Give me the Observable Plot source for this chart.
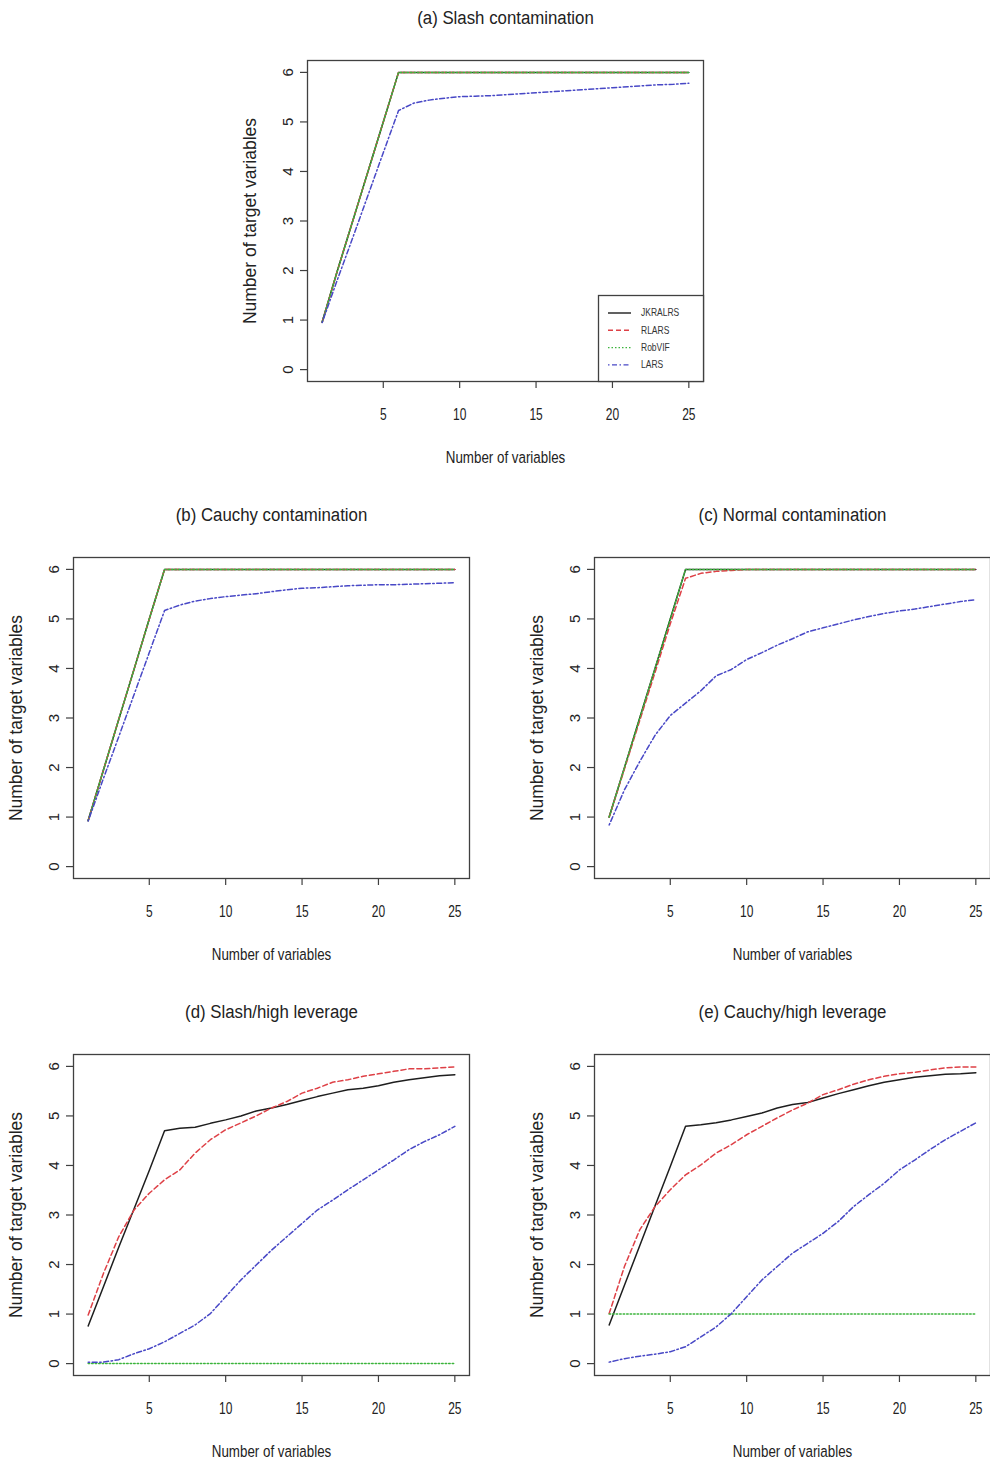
<!DOCTYPE html>
<html>
<head>
<meta charset="utf-8">
<script src="https://cdn.jsdelivr.net/npm/d3@7"></script>
<script src="https://cdn.jsdelivr.net/npm/@observablehq/plot@0.6"></script>
<style>
  html, body { margin: 0; padding: 0; background: #fff; overflow: hidden; }
  #page { position: relative; width: 990px; height: 1464px; overflow: hidden; background: #fff; }
  #page > svg { position: absolute; }
</style>
</head>
<body>
<div id="page"></div>
<script>
// ---------- data ----------
const nVars = [1,2,3,4,5,6,7,8,9,10,11,12,13,14,15,16,17,18,19,20,21,22,23,24,25];
const xTicks = [5, 10, 15, 20, 25];
const yTicks = [0, 1, 2, 3, 4, 5, 6];
const methods = ["JKRALRS", "RLARS", "RobVIF", "LARS"];
const panelTitles = ["(a) Slash contamination", "(b) Cauchy contamination", "(c) Normal contamination", "(d) Slash/high leverage", "(e) Cauchy/high leverage"];
const xLabel = "Number of variables";
const yLabel = "Number of target variables";

// (a) Slash contamination
const a_JKRALRS = [0.96,2.0,3.0,4.0,5.0,6,6,6,6,6,6,6,6,6,6,6,6,6,6,6,6,6,6,6,6];
const a_RLARS   = [0.96,2.0,3.0,4.0,5.0,6,6,6,6,6,6,6,6,6,6,6,6,6,6,6,6,6,6,6,6];
const a_RobVIF  = [0.96,2.0,3.0,4.0,5.0,6,6,6,6,6,6,6,6,6,6,6,6,6,6,6,6,6,6,6,6];
const a_LARS    = [0.95,1.82,2.66,3.52,4.38,5.23,5.38,5.44,5.48,5.51,5.52,5.53,5.55,5.57,5.59,5.61,5.63,5.65,5.67,5.69,5.71,5.73,5.75,5.76,5.78];
// (b) Cauchy contamination
const b_JKRALRS = [0.93,1.95,2.97,3.98,5.0,6,6,6,6,6,6,6,6,6,6,6,6,6,6,6,6,6,6,6,6];
const b_RLARS   = [0.93,1.95,2.97,3.98,5.0,6,6,6,6,6,6,6,6,6,6,6,6,6,6,6,6,6,6,6,6];
const b_RobVIF  = [0.93,1.95,2.97,3.98,5.0,6,6,6,6,6,6,6,6,6,6,6,6,6,6,6,6,6,6,6,6];
const b_LARS    = [0.92,1.78,2.62,3.47,4.32,5.17,5.28,5.36,5.41,5.45,5.48,5.51,5.55,5.59,5.62,5.63,5.65,5.67,5.68,5.69,5.69,5.70,5.71,5.72,5.73];
// (c) Normal contamination
const c_JKRALRS = [1.0,2.0,3.0,4.0,5.0,6,6,6,6,6,6,6,6,6,6,6,6,6,6,6,6,6,6,6,6];
const c_RLARS   = [1.0,1.97,2.95,3.92,4.9,5.82,5.92,5.96,5.98,6,6,6,6,6,6,6,6,6,6,6,6,6,6,6,6];
const c_RobVIF  = [1.0,2.0,3.0,4.0,5.0,6,6,6,6,6,6,6,6,6,6,6,6,6,6,6,6,6,6,6,6];
const c_LARS    = [0.84,1.55,2.12,2.65,3.05,3.3,3.55,3.85,3.98,4.18,4.32,4.47,4.6,4.74,4.82,4.9,4.98,5.05,5.11,5.16,5.2,5.25,5.3,5.35,5.39];
// (d) Slash/high leverage
const d_JKRALRS = [0.76,1.55,2.35,3.12,3.9,4.7,4.75,4.77,4.85,4.92,5.0,5.1,5.16,5.23,5.31,5.39,5.46,5.53,5.56,5.61,5.68,5.73,5.77,5.81,5.83];
const d_RLARS   = [0.98,1.82,2.56,3.1,3.44,3.71,3.91,4.25,4.52,4.72,4.86,5.0,5.16,5.29,5.46,5.56,5.68,5.73,5.8,5.85,5.9,5.95,5.95,5.97,5.99];
const d_RobVIF  = [0,0,0,0,0,0,0,0,0,0,0,0,0,0,0,0,0,0,0,0,0,0,0,0,0];
const d_LARS    = [0.03,0.03,0.08,0.2,0.3,0.44,0.61,0.78,1.01,1.35,1.69,1.99,2.29,2.56,2.83,3.1,3.3,3.51,3.71,3.91,4.11,4.32,4.48,4.62,4.79];
// (e) Cauchy/high leverage
const e_JKRALRS = [0.78,1.58,2.38,3.18,3.98,4.79,4.82,4.86,4.92,4.99,5.06,5.16,5.23,5.27,5.36,5.45,5.53,5.61,5.68,5.73,5.78,5.81,5.84,5.85,5.87];
const e_RLARS   = [1.01,1.96,2.7,3.17,3.51,3.81,4.01,4.25,4.42,4.62,4.79,4.96,5.12,5.26,5.43,5.53,5.64,5.73,5.8,5.85,5.88,5.93,5.97,5.99,5.99];
const e_RobVIF  = [1,1,1,1,1,1,1,1,1,1,1,1,1,1,1,1,1,1,1,1,1,1,1,1,1];
const e_LARS    = [0.03,0.1,0.15,0.19,0.24,0.34,0.54,0.74,1.01,1.35,1.69,1.96,2.23,2.43,2.63,2.87,3.17,3.41,3.64,3.91,4.11,4.32,4.52,4.69,4.86];

const panelSeries = [
  [a_JKRALRS, a_RLARS, a_RobVIF, a_LARS],
  [b_JKRALRS, b_RLARS, b_RobVIF, b_LARS],
  [c_JKRALRS, c_RLARS, c_RobVIF, c_LARS],
  [d_JKRALRS, d_RLARS, d_RobVIF, d_LARS],
  [e_JKRALRS, e_RLARS, e_RobVIF, e_LARS]
];

// ---------- styles ----------
const lineStyle = {
  JKRALRS: {stroke: "#1e1e1e", dash: null, width: 1.5},
  RLARS:   {stroke: "#de4046", dash: "5,3", width: 1.5},
  RobVIF:  {stroke: "#3cb43c", dash: "1.5,2", width: 1.5},
  LARS:    {stroke: "#4848c6", dash: "1.5,2.5,5,2.5", width: 1.5}
};
// plot box positions on the page: left, top
const boxPos = [[307, 60], [73, 557], [594, 557], [73, 1054], [594, 1054]];
const boxW = 396, boxH = 321;
const mL = 70, mT = 55, mB = 92, mR = 0;
const font = "'Liberation Sans', Arial, sans-serif";
const ink = "#222";

// squeeze horizontal text sideways (the reference picture is compressed horizontally)
function squeezeText(t, sx) {
  const g = document.createElementNS("http://www.w3.org/2000/svg", "g");
  t.parentNode.insertBefore(g, t);
  g.appendChild(t);
  const b = g.getBBox();
  const cx = b.x + b.width / 2;
  g.setAttribute("transform", `translate(${cx},0) scale(${sx},1) translate(${-cx},0)`);
}

const page = document.getElementById("page");

panelSeries.forEach((series, p) => {
  const lines = methods.map((m, k) => Plot.line(nVars.map((x, i) => ({x, y: series[k][i]})), {
    x: "x", y: "y",
    stroke: lineStyle[m].stroke,
    strokeWidth: lineStyle[m].width,
    strokeDasharray: lineStyle[m].dash
  }));
  const chart = Plot.plot({
    width: mL + boxW + mR,
    height: mT + boxH + mB,
    marginLeft: mL, marginRight: mR, marginTop: mT, marginBottom: mB,
    style: {background: "transparent", overflow: "visible", fontFamily: font, color: ink},
    x: {domain: [0.04, 25.96]},
    y: {domain: [-0.24, 6.24]},
    marks: [
      ...lines,
      Plot.frame({stroke: "#404040", strokeWidth: 1.3}),
      Plot.axisX({ticks: xTicks, tickSize: 7, tickPadding: 20, fontSize: 16, label: null,
                  tickFormat: d => String(d), stroke: "#404040", strokeWidth: 1.2, fill: ink}),
      Plot.axisY({ticks: yTicks, tickSize: 7, tickPadding: 8, tickRotate: -90, fontSize: 15,
                  label: null, tickFormat: d => String(d), stroke: "#404040", strokeWidth: 1.2, fill: ink}),
      Plot.text([panelTitles[p]], {frameAnchor: "top", dy: -43, textAnchor: "middle", lineAnchor: "middle",
                  fontSize: 19, fill: ink}),
      Plot.text([xLabel], {frameAnchor: "bottom", dy: 76, textAnchor: "middle", lineAnchor: "middle",
                  fontSize: 16.5, fill: ink}),
      Plot.text([yLabel], {frameAnchor: "left", dx: -57, rotate: -90, textAnchor: "middle", lineAnchor: "middle",
                  fontSize: 17.5, fill: ink})
    ]
  });
  chart.style.left = (boxPos[p][0] - mL) + "px";
  chart.style.top = (boxPos[p][1] - mT) + "px";
  page.appendChild(chart);
  const xTickStrings = xTicks.map(String);
  Array.from(chart.querySelectorAll("text")).forEach(t => {
    const s = t.textContent.trim();
    if (s === panelTitles[p]) squeezeText(t, 0.885);
    else if (s === xLabel) squeezeText(t, 0.81);
    else if (xTickStrings.includes(s) && t.closest('g[aria-label="x-axis tick label"]')) squeezeText(t, 0.75);
  });
});

// ---------- legend (panel a, bottom right) ----------
const leg = d3.create("svg").attr("width", 106).attr("height", 87)
  .style("left", "597.5px").style("top", "294.5px").style("overflow", "visible");
leg.append("rect").attr("x", 0.5).attr("y", 0.5).attr("width", 105).attr("height", 86)
  .attr("fill", "#fff").attr("stroke", "#404040").attr("stroke-width", 1.3);
methods.forEach((m, i) => {
  const y = 18 + i * 17.3;
  leg.append("line").attr("x1", 10).attr("x2", 33).attr("y1", y).attr("y2", y)
    .attr("stroke", lineStyle[m].stroke).attr("stroke-width", 1.4)
    .attr("stroke-dasharray", lineStyle[m].dash);
  leg.append("g").attr("transform", "translate(43,0) scale(0.85,1)")
    .append("text").attr("x", 0).attr("y", y).attr("dy", "0.35em")
    .attr("font-family", font).attr("font-size", 10).attr("fill", "#333").text(m);
});
page.appendChild(leg.node());
</script>
</body>
</html>
